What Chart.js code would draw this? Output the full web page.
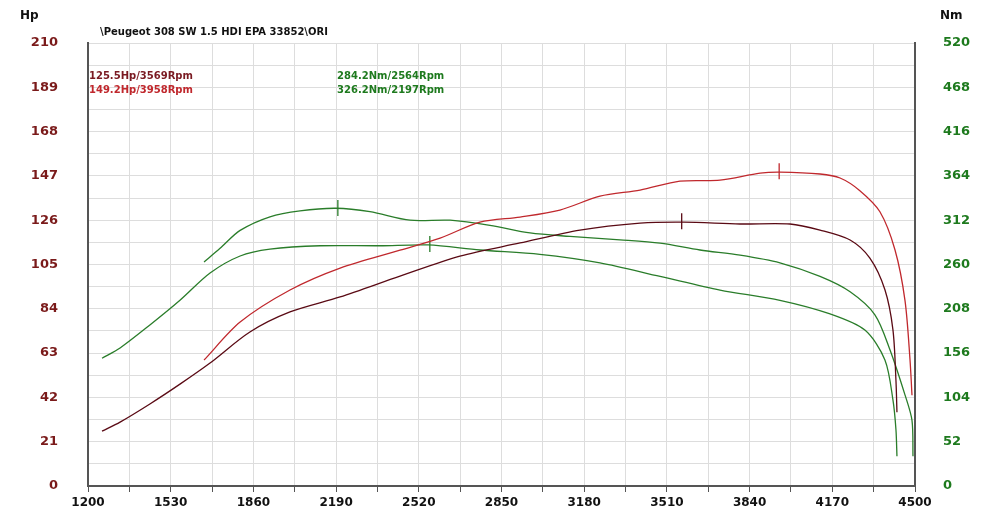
<!DOCTYPE html>
<html>
<head>
<meta charset="utf-8">
<script src="https://cdn.jsdelivr.net/npm/chart.js@4"></script>
<style>
  html, body { margin: 0; padding: 0; background: #fff; }
  #wrap { width: 1000px; height: 528px; }
</style>
</head>
<body>
<div id="wrap"><canvas id="dyno"></canvas></div>
<script>
// tuned power (Hp)
const powerTunedRpm = [1663,1807,2006,2206,2445,2605,2764,2924,3083,3243,3403,3562,3722,3882,3961,4121,4201,4280,4360,4420,4460,4480,4488];
const powerTunedHp  = [59.7,77.7,92.9,103.3,111.8,117.5,125.1,127.5,130.8,137.4,140.3,144.5,145,148.3,148.8,147.9,146,140,130,112,88,60,43];
// stock power (Hp)
const powerStockRpm = [1256,1328,1447,1567,1687,1846,2006,2206,2445,2684,2924,3163,3403,3578,3802,4001,4121,4241,4320,4380,4412,4424,4428];
const powerStockHp  = [26,30.3,38.9,48.3,58.3,73,82.5,89.6,99.5,109,115.2,121.3,124.6,125.1,124.2,124.2,121.3,116.6,108,93,74,50,35];
// tuned torque (Nm)
const torqueTunedRpm = [1663,1727,1807,1926,2046,2190,2325,2485,2645,2804,2964,3123,3323,3483,3642,3802,3961,4121,4241,4340,4400,4460,4488,4492];
const torqueTunedNm  = [263,279,300,316,323,326,322,312,312,306,297,293,289,285,277,271,262,246,228,201,160,107,77,35];
// stock torque (Nm)
const torqueStockRpm = [1256,1328,1447,1567,1687,1807,1926,2126,2365,2557,2764,3003,3243,3483,3722,3961,4161,4300,4380,4412,4424,4428];
const torqueStockNm  = [150,162,189,218,250,270,278,282,282,283,277,272,262,246,230,218,202,183,148,101,66,35];

// peak markers
const powerPeaks  = [{ x: 3569, y: 125.5 }, { x: 3958, y: 149.2 }];
const torquePeaks = [{ x: 2564, y: 284.2 }, { x: 2197, y: 326.2 }];

const xTicks = [1200,1530,1860,2190,2520,2850,3180,3510,3840,4170,4500];
const title = '\\Peugeot 308 SW 1.5 HDI EPA 33852\\ORI';
const notes = [
  { text: '125.5Hp/3569Rpm', color: '#7a1a22', rpm: 1200, hp: 194 },
  { text: '149.2Hp/3958Rpm', color: '#c0282d', rpm: 1200, hp: 187.5 },
  { text: '284.2Nm/2564Rpm', color: '#1e7a1e', rpm: 2190, hp: 194 },
  { text: '326.2Nm/2197Rpm', color: '#1e7a1e', rpm: 2190, hp: 187.5 }
];

const RED = '#c0282d', DARK = '#5a0a14', GREEN = '#2a7d2a';
const FONT = '"DejaVu Sans", Verdana, sans-serif';

function pts(xs, ys) { return xs.map((x, i) => ({ x: x, y: ys[i] })); }

const textPlugin = {
  id: 'texts',
  afterDraw(chart) {
    const c = chart.ctx, xs = chart.scales.x, ys = chart.scales.y;
    c.save();
    c.font = 'bold 12px ' + FONT;
    c.fillStyle = '#111';
    c.textBaseline = 'middle';
    c.fillText('Hp', 20, 16);
    c.fillText('Nm', 940, 16);
    c.font = 'bold 10px ' + FONT;
    c.fillText(title, 100, 32);
    notes.forEach(n => {
      c.fillStyle = n.color;
      c.fillText(n.text, xs.getPixelForValue(n.rpm) + 1, ys.getPixelForValue(n.hp));
    });
    c.restore();
  }
};

const lineDs = (label, data, color, axis) => ({
  label, data, borderColor: color, borderWidth: 1.3, pointRadius: 0,
  tension: 0.3, yAxisID: axis, fill: false
});
const peakDs = (data, color, axis) => ({
  type: 'scatter', data, borderColor: color, borderWidth: 1.3,
  pointStyle: 'line', pointRotation: 90, pointRadius: 8, yAxisID: axis
});

new Chart(document.getElementById('dyno'), {
  type: 'line',
  data: {
    datasets: [
      lineDs('Hp tuned', pts(powerTunedRpm, powerTunedHp), RED, 'y'),
      lineDs('Hp stock', pts(powerStockRpm, powerStockHp), DARK, 'y'),
      lineDs('Nm tuned', pts(torqueTunedRpm, torqueTunedNm), GREEN, 'y2'),
      lineDs('Nm stock', pts(torqueStockRpm, torqueStockNm), GREEN, 'y2'),
      peakDs([powerPeaks[0]], DARK, 'y'),
      peakDs([powerPeaks[1]], RED, 'y'),
      peakDs(torquePeaks, GREEN, 'y2')
    ]
  },
  options: {
    responsive: true,
    maintainAspectRatio: false,
    animation: false,
    layout: { padding: { top: 43, left: 0, right: 0, bottom: 0 } },
    plugins: { legend: { display: false }, tooltip: { enabled: false } },
    scales: {
      x: {
        type: 'linear', min: 1200, max: 4500,
        afterBuildTicks: s => { s.ticks = []; for (let v = 1200; v <= 4500; v += 165) s.ticks.push({ value: v }); },
        afterFit: s => { s.height = 42; },
        grid: { color: '#dddddd', tickColor: '#555', tickLength: 6 },
        border: { color: '#555', width: 2 },
        ticks: {
          color: '#111', font: { family: FONT, size: 12, weight: 'bold' },
          maxRotation: 0, autoSkip: false, padding: 4,
          callback: v => xTicks.includes(v) ? String(v) : ''
        }
      },
      y: {
        position: 'left', min: 0, max: 210,
        afterBuildTicks: s => { s.ticks = []; for (let v = 0; v <= 210; v += 10.5) s.ticks.push({ value: v }); },
        afterFit: s => { s.width = 88; },
        grid: { color: '#dddddd', drawTicks: false },
        border: { color: '#555', width: 2 },
        ticks: {
          color: '#7a1a1a', font: { family: FONT, size: 13, weight: 'bold' }, padding: 30,
          autoSkip: false, callback: v => (v % 21 === 0) ? String(v) : ''
        }
      },
      y2: {
        position: 'right', min: 0, max: 520,
        afterBuildTicks: s => { s.ticks = []; for (let v = 0; v <= 520; v += 52) s.ticks.push({ value: v }); },
        afterFit: s => { s.width = 85; },
        grid: { display: false },
        border: { color: '#555', width: 2 },
        ticks: {
          color: '#1e7a1e', font: { family: FONT, size: 13, weight: 'bold' }, padding: 20,
          autoSkip: false, callback: v => String(v)
        }
      }
    }
  },
  plugins: [textPlugin]
});
</script>
</body>
</html>
